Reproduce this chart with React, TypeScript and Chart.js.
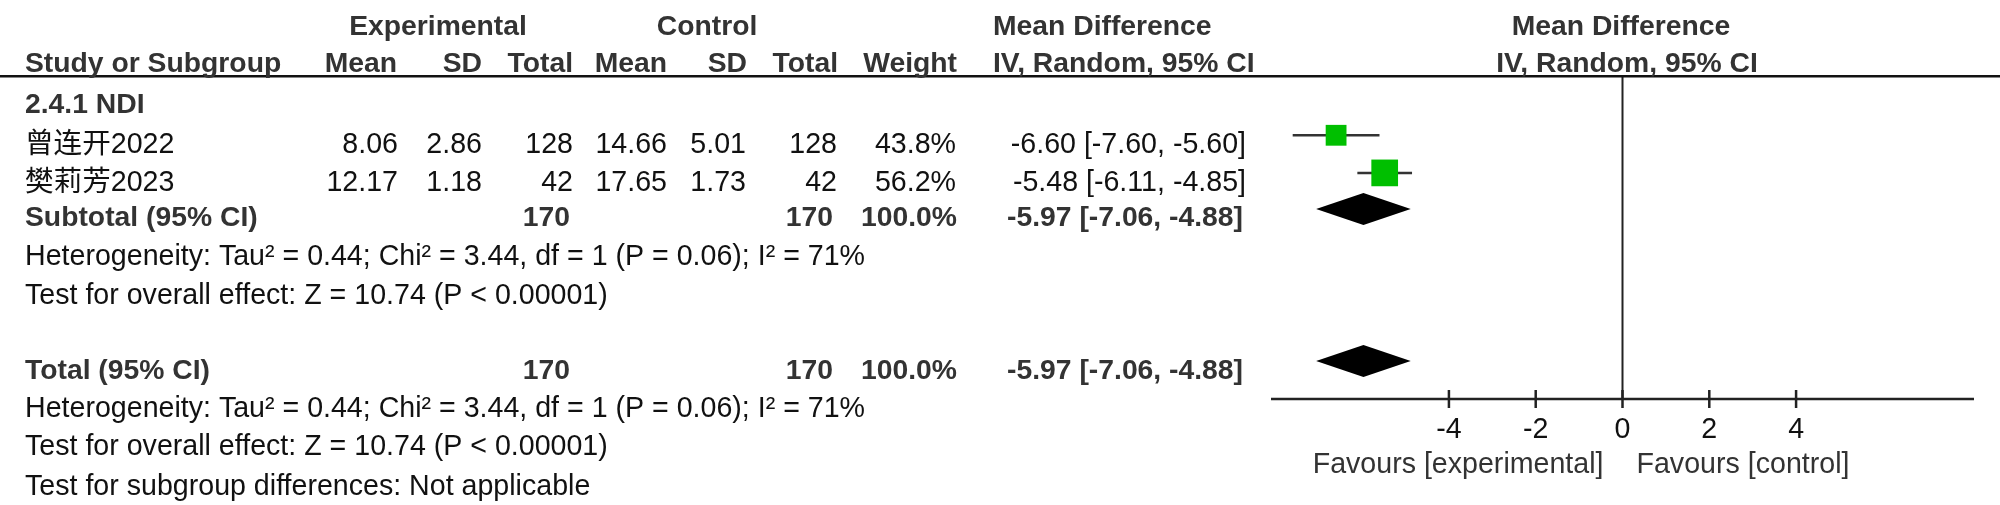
import React, { useEffect, useRef } from 'react';
import { Chart, registerables } from 'chart.js';

Chart.register(...registerables);

// ---------- data ----------
const studyNames = ['曾连开2022', '樊莉芳2023'];
const expMean = [8.06, 12.17];
const expSD = [2.86, 1.18];
const expTotal = [128, 42];
const ctlMean = [14.66, 17.65];
const ctlSD = [5.01, 1.73];
const ctlTotal = [128, 42];
const weights = [43.8, 56.2];
const meanDiff = [-6.6, -5.48];
const ciLower = [-7.6, -6.11];
const ciUpper = [-5.6, -4.85];

// pooled rows: [subtotal, total]
const pooledLabels = ['Subtotal (95% CI)', 'Total (95% CI)'];
const pooledMD = [-5.97, -5.97];
const pooledLower = [-7.06, -7.06];
const pooledUpper = [-4.88, -4.88];
const pooledExpTotal = [170, 170];
const pooledCtlTotal = [170, 170];
const pooledWeight = [100.0, 100.0];

const xTicks = [-4, -2, 0, 2, 4];
const groupTitle = '2.4.1 NDI';
const heterogeneityText = 'Heterogeneity: Tau² = 0.44; Chi² = 3.44, df = 1 (P = 0.06); I² = 71%';
const overallEffectText = 'Test for overall effect: Z = 10.74 (P < 0.00001)';
const subgroupText = 'Test for subgroup differences: Not applicable';
const favoursLeft = 'Favours [experimental]';
const favoursRight = 'Favours [control]';

// ---------- layout ----------
const W = 2000;
const H = 505;
const FAMILY = '"Liberation Sans", Arial, "Noto Sans CJK SC", sans-serif';
const BOLD = `bold 28.3px ${FAMILY}`;
const REG = `28.6px ${FAMILY}`;
const HEAD_COLOR = '#333333';
const TEXT_COLOR = '#111111';
const LINE_COLOR = '#222222';
const GREEN = '#00BF00';

const PLOT = { left: 1271, right: 1974, top: 76, bottom: 399, xMin: -8.1, xMax: 8.1, rowMax: 8.5 };
const studyRows = [1.56, 2.55];
const pooledRows = [3.5, 7.5];

const COL = {
  name: 25,
  expMean: 398,
  expSD: 482,
  expN: 573,
  ctlMean: 667,
  ctlSD: 746,
  ctlN: 837,
  weight: 956,
  ci: 1246,
  mdLeft: 993,
};
const BASE = {
  head1: 35,
  head2: 72,
  group: 113,
  studies: [153, 191],
  pooled: [226, 379],
  het: [265, 417],
  test: [304, 455],
  subgroup: 495,
  tickLabel: 438,
  favours: 473,
};

const fmtCI = (m: number, l: number, u: number) => `${m.toFixed(2)} [${l.toFixed(2)}, ${u.toFixed(2)}]`;

function text(ctx: CanvasRenderingContext2D, s: string, x: number, y: number, align: CanvasTextAlign, font: string, color: string) {
  ctx.font = font;
  ctx.fillStyle = color;
  ctx.textAlign = align;
  ctx.textBaseline = 'alphabetic';
  ctx.fillText(s, x, y);
}

const forestPlugin = {
  id: 'forestPlot',
  beforeDatasetsDraw(chart: any) {
    const { ctx, chartArea, scales } = chart;
    const x0 = scales.x.getPixelForValue(0);
    ctx.save();
    ctx.strokeStyle = LINE_COLOR;
    ctx.lineWidth = 2;
    ctx.beginPath();
    ctx.moveTo(x0, chartArea.top);
    ctx.lineTo(x0, chartArea.bottom);
    ctx.stroke();
    ctx.restore();
  },
  afterDatasetsDraw(chart: any) {
    const { ctx, scales } = chart;
    const { x, y } = scales;
    ctx.save();
    ctx.fillStyle = '#000000';
    pooledMD.forEach((m, i) => {
      const cx = x.getPixelForValue(m);
      const l = x.getPixelForValue(pooledLower[i]);
      const r = x.getPixelForValue(pooledUpper[i]);
      const cy = y.getPixelForValue(pooledRows[i]);
      const hh = 16;
      ctx.beginPath();
      ctx.moveTo(l, cy);
      ctx.lineTo(cx, cy - hh);
      ctx.lineTo(r, cy);
      ctx.lineTo(cx, cy + hh);
      ctx.closePath();
      ctx.fill();
    });
    ctx.restore();
  },
  afterDraw(chart: any) {
    const { ctx, chartArea, scales } = chart;
    const { x } = scales;
    ctx.save();

    // header rule
    ctx.fillStyle = '#111111';
    ctx.fillRect(0, 75, W, 2.5);

    // axis
    const ay = chartArea.bottom;
    ctx.strokeStyle = LINE_COLOR;
    ctx.lineWidth = 2.5;
    ctx.beginPath();
    ctx.moveTo(chartArea.left, ay);
    ctx.lineTo(chartArea.right, ay);
    ctx.stroke();
    xTicks.forEach((t) => {
      const px = x.getPixelForValue(t);
      ctx.beginPath();
      ctx.moveTo(px, ay - 9);
      ctx.lineTo(px, ay + 9);
      ctx.stroke();
      text(ctx, String(t), px, BASE.tickLabel, 'center', REG, TEXT_COLOR);
    });
    const x0 = x.getPixelForValue(0);
    text(ctx, favoursLeft, x0 - 19, BASE.favours, 'right', REG, '#333333');
    text(ctx, favoursRight, x0 + 14, BASE.favours, 'left', REG, '#333333');

    // header row 1
    text(ctx, 'Experimental', 438, BASE.head1, 'center', BOLD, HEAD_COLOR);
    text(ctx, 'Control', 707, BASE.head1, 'center', BOLD, HEAD_COLOR);
    text(ctx, 'Mean Difference', COL.mdLeft, BASE.head1, 'left', BOLD, HEAD_COLOR);
    text(ctx, 'Mean Difference', 1621, BASE.head1, 'center', BOLD, HEAD_COLOR);

    // header row 2
    text(ctx, 'Study or Subgroup', COL.name, BASE.head2, 'left', BOLD, HEAD_COLOR);
    text(ctx, 'Mean', COL.expMean - 1, BASE.head2, 'right', BOLD, HEAD_COLOR);
    text(ctx, 'SD', COL.expSD, BASE.head2, 'right', BOLD, HEAD_COLOR);
    text(ctx, 'Total', COL.expN, BASE.head2, 'right', BOLD, HEAD_COLOR);
    text(ctx, 'Mean', COL.ctlMean, BASE.head2, 'right', BOLD, HEAD_COLOR);
    text(ctx, 'SD', COL.ctlSD + 1, BASE.head2, 'right', BOLD, HEAD_COLOR);
    text(ctx, 'Total', COL.ctlN + 1, BASE.head2, 'right', BOLD, HEAD_COLOR);
    text(ctx, 'Weight', COL.weight + 1, BASE.head2, 'right', BOLD, HEAD_COLOR);
    text(ctx, 'IV, Random, 95% CI', COL.mdLeft, BASE.head2, 'left', BOLD, HEAD_COLOR);
    text(ctx, 'IV, Random, 95% CI', 1627, BASE.head2, 'center', BOLD, HEAD_COLOR);

    // group title
    text(ctx, groupTitle, COL.name, BASE.group, 'left', BOLD, HEAD_COLOR);

    // study rows
    studyNames.forEach((name, i) => {
      const by = BASE.studies[i];
      text(ctx, name, COL.name, by, 'left', REG, TEXT_COLOR);
      text(ctx, expMean[i].toFixed(2), COL.expMean, by, 'right', REG, TEXT_COLOR);
      text(ctx, expSD[i].toFixed(2), COL.expSD, by, 'right', REG, TEXT_COLOR);
      text(ctx, String(expTotal[i]), COL.expN, by, 'right', REG, TEXT_COLOR);
      text(ctx, ctlMean[i].toFixed(2), COL.ctlMean, by, 'right', REG, TEXT_COLOR);
      text(ctx, ctlSD[i].toFixed(2), COL.ctlSD, by, 'right', REG, TEXT_COLOR);
      text(ctx, String(ctlTotal[i]), COL.ctlN, by, 'right', REG, TEXT_COLOR);
      text(ctx, `${weights[i].toFixed(1)}%`, COL.weight, by, 'right', REG, TEXT_COLOR);
      text(ctx, fmtCI(meanDiff[i], ciLower[i], ciUpper[i]), COL.ci, by, 'right', REG, TEXT_COLOR);
    });

    // pooled rows + stats
    pooledLabels.forEach((label, i) => {
      const by = BASE.pooled[i];
      text(ctx, label, COL.name, by, 'left', BOLD, HEAD_COLOR);
      text(ctx, String(pooledExpTotal[i]), COL.expN - 3, by, 'right', BOLD, HEAD_COLOR);
      text(ctx, String(pooledCtlTotal[i]), COL.ctlN - 4, by, 'right', BOLD, HEAD_COLOR);
      text(ctx, `${pooledWeight[i].toFixed(1)}%`, COL.weight + 1, by, 'right', BOLD, HEAD_COLOR);
      text(ctx, fmtCI(pooledMD[i], pooledLower[i], pooledUpper[i]), COL.ci - 3, by, 'right', BOLD, HEAD_COLOR);
      text(ctx, heterogeneityText, COL.name, BASE.het[i], 'left', REG, TEXT_COLOR);
      text(ctx, overallEffectText, COL.name, BASE.test[i], 'left', REG, TEXT_COLOR);
    });
    text(ctx, subgroupText, COL.name, BASE.subgroup, 'left', REG, TEXT_COLOR);

    ctx.restore();
  },
};

export default function App() {
  const canvasRef = useRef<HTMLCanvasElement | null>(null);

  useEffect(() => {
    const canvas = canvasRef.current;
    if (!canvas) return;

    const ciDatasets = studyNames.map((name, i) => ({
      label: `${name} CI`,
      data: [
        { x: ciLower[i], y: studyRows[i] },
        { x: ciUpper[i], y: studyRows[i] },
      ],
      showLine: true,
      borderColor: '#333333',
      borderWidth: 2.5,
      pointRadius: 0,
      order: 2,
    }));

    const squareDataset = {
      label: 'Studies',
      data: studyNames.map((_, i) => ({ x: meanDiff[i], y: studyRows[i] })),
      pointStyle: 'rect',
      pointRadius: weights.map((w) => (w * 0.475) / Math.SQRT2),
      pointBackgroundColor: GREEN,
      pointBorderWidth: 0,
      showLine: false,
      order: 0,
    };

    const chart = new Chart(canvas, {
      type: 'scatter',
      data: { datasets: [squareDataset as any, ...ciDatasets] },
      options: {
        animation: false,
        responsive: false,
        devicePixelRatio: 1,
        events: [],
        layout: {
          padding: { left: PLOT.left, right: W - PLOT.right, top: PLOT.top, bottom: H - PLOT.bottom },
        },
        plugins: { legend: { display: false }, tooltip: { enabled: false }, title: { display: false } },
        scales: {
          x: { type: 'linear', min: PLOT.xMin, max: PLOT.xMax, display: false },
          y: { type: 'linear', min: 0, max: PLOT.rowMax, reverse: true, display: false },
        },
      },
      plugins: [forestPlugin],
    });

    return () => chart.destroy();
  }, []);

  return (
    <div style={{ position: 'fixed', left: 0, top: 0, width: W, height: H, background: '#ffffff' }}>
      <canvas ref={canvasRef} width={W} height={H} style={{ display: 'block', width: W, height: H }} />
    </div>
  );
}
